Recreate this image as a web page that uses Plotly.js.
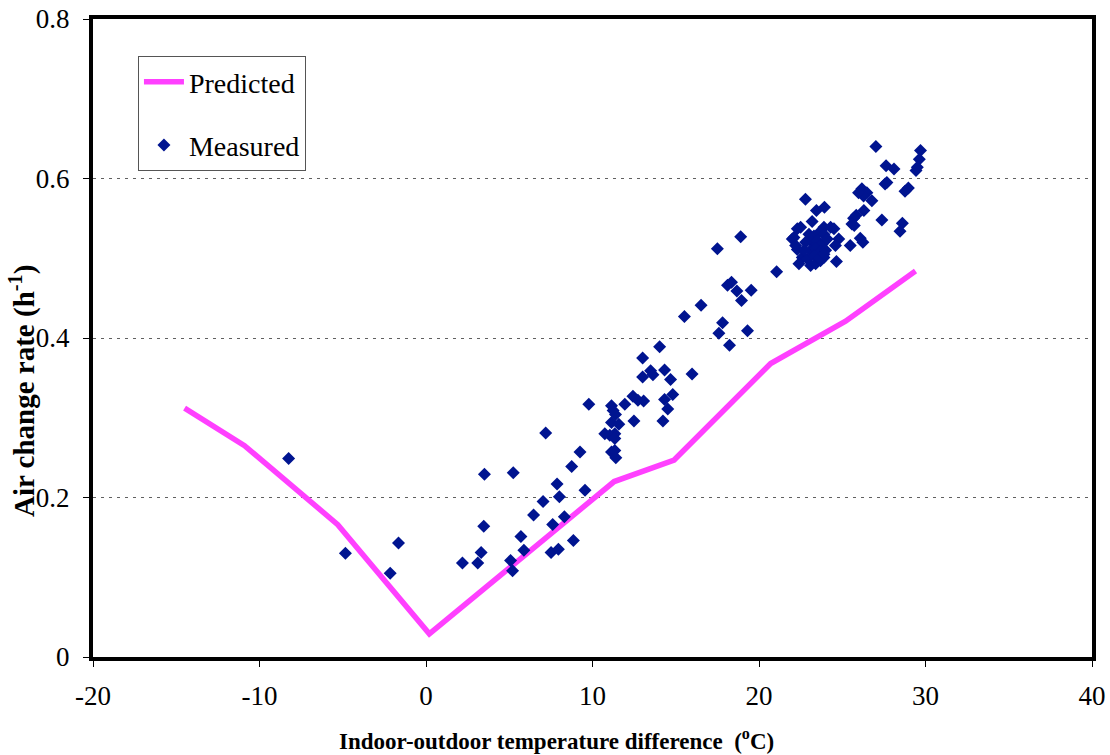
<!DOCTYPE html>
<html>
<head>
<meta charset="utf-8">
<script src="https://cdn.plot.ly/plotly-3.0.1.min.js"></script>
<style>html,body{margin:0;padding:0;background:#fff;}#chart{width:1110px;height:755px;}</style>
</head>
<body>
<div id="chart"></div>
<script>
// Predicted curve
var predX = [-14.5, -10.9, -5.3, 0.2, 5.2, 11.3, 14.9, 20.7, 25.2, 29.4];
var predY = [0.312, 0.265, 0.166, 0.029, 0.115, 0.220, 0.247, 0.368, 0.421, 0.484];

// Measured points
var measX = [-8.25, -4.84, -1.65, -2.15, 3.51, 5.24, 3.47, 3.31, 2.19, 3.11, 5.08, 5.20, 5.70,
  9.78, 11.94, 12.49, 10.74, 11.04, 11.34, 11.34, 11.14, 11.34, 11.40, 7.19, 9.25, 8.75, 7.87,
  9.55, 8.01, 7.03, 6.46, 8.31, 7.61, 8.85, 5.88, 7.51, 7.95,
  21.06, 18.11, 18.35, 18.67, 19.53, 18.95, 16.52, 15.52, 17.81, 17.59, 19.31, 18.23, 14.03,
  13.01, 14.33, 15.98, 13.49, 13.63, 13.01, 14.69, 14.82, 14.33, 14.52, 14.23, 12.43, 12.73,
  13.07, 11.14, 11.24, 11.38, 11.14, 11.58, 17.5, 18.9,
  27.02, 29.70, 29.63, 29.51, 29.43, 27.63, 28.11, 27.57, 27.68, 28.97, 28.77, 26.18, 26.48,
  26.28, 26.78, 25.98, 22.79, 26.30, 23.45, 23.93, 25.84, 25.68, 27.38, 25.58, 25.72, 28.61,
  28.47, 26.08, 26.24, 25.48, 24.65, 24.79, 24.59, 24.30, 24.50, 23.90, 23.19, 22.30, 22.50,
  22.00, 22.10, 22.30, 22.20, 22.60, 22.90, 23.10, 23.40, 23.69, 23.90, 22.40,
  23.0, 23.3, 23.6, 23.9, 23.2, 23.5, 23.8, 24.1, 23.1, 23.4, 23.7, 24.0, 23.3, 23.6, 23.9, 22.8, 22.7];
var measY = [0.249, 0.130, 0.143, 0.105, 0.229, 0.231, 0.164, 0.131, 0.118, 0.118, 0.121, 0.108, 0.151,
  0.317, 0.317, 0.296, 0.280, 0.278, 0.280, 0.274, 0.257, 0.259, 0.250, 0.281, 0.257, 0.239, 0.217,
  0.209, 0.201, 0.195, 0.178, 0.176, 0.166, 0.146, 0.134, 0.131, 0.135,
  0.483, 0.466, 0.470, 0.459, 0.460, 0.447, 0.441, 0.427, 0.419, 0.406, 0.409, 0.391, 0.389,
  0.375, 0.360, 0.355, 0.359, 0.354, 0.351, 0.348, 0.329, 0.323, 0.311, 0.296, 0.327, 0.322,
  0.321, 0.315, 0.309, 0.304, 0.294, 0.292, 0.512, 0.527,
  0.640, 0.635, 0.624, 0.614, 0.610, 0.616, 0.612, 0.593, 0.595, 0.588, 0.584, 0.587, 0.582,
  0.578, 0.572, 0.582, 0.574, 0.560, 0.560, 0.564, 0.554, 0.550, 0.548, 0.543, 0.541, 0.544,
  0.534, 0.525, 0.520, 0.516, 0.496, 0.524, 0.516, 0.539, 0.537, 0.539, 0.546, 0.537, 0.539,
  0.524, 0.526, 0.511, 0.516, 0.501, 0.499, 0.491, 0.493, 0.497, 0.501, 0.493,
  0.530, 0.528, 0.532, 0.530, 0.520, 0.522, 0.518, 0.524, 0.510, 0.512, 0.508, 0.510, 0.503, 0.500, 0.505, 0.520, 0.510];

var xTicks = [-20, -10, 0, 10, 20, 30, 40];
var xTickText = ['-20', '-10', '0', '10', '20', '30', '40'];
var yTicks = [0, 0.2, 0.4, 0.6, 0.8];
var yTickText = ['0', '0.2', '0.4', '0.6', '0.8'];

var xTitle = '<b>Indoor-outdoor temperature difference  (<sup>o</sup>C)</b>';
var yTitle = '<b>Air change rate (h<sup>-1</sup>)</b>';

var FONT = '"Liberation Serif", "Times New Roman", serif';

var traces = [
  {
    x: predX, y: predY, type: 'scatter', mode: 'lines', name: 'Predicted',
    legendgroup: 'a',
    line: {color: '#FF40FF', width: 5.5}
  },
  {
    x: measX, y: measY, type: 'scatter', mode: 'markers', name: 'Measured',
    legendgroup: 'b',
    marker: {symbol: 'diamond', size: 10, color: '#001490', line: {width: 0}}
  }
];

var layout = {
  width: 1110, height: 755,
  margin: {l: 93, r: 18, t: 19, b: 98},
  paper_bgcolor: '#fff', plot_bgcolor: '#fff',
  font: {family: FONT, size: 21, color: '#000'},
  showlegend: true,
  legend: {
    x: 0.045, y: 0.942, xanchor: 'left', yanchor: 'top',
    bgcolor: '#fff', bordercolor: '#555', borderwidth: 1,
    font: {family: FONT, size: 28, color: '#000'},
    itemwidth: 40,
    traceorder: 'grouped', tracegroupgap: 24
  },
  xaxis: {
    range: [-20, 40], tickvals: xTicks, ticktext: xTickText, ticks: 'outside', ticklen: 6, tickcolor: '#000',
    showline: true, linewidth: 4, linecolor: '#000', mirror: true,
    showgrid: false, zeroline: false,
    ticklabelstandoff: 6,
    tickfont: {family: FONT, size: 27}
  },
  yaxis: {
    range: [0, 0.8], tickvals: yTicks, ticktext: yTickText, ticks: 'outside', ticklen: 6, tickcolor: '#000',
    showline: true, linewidth: 4, linecolor: '#000', mirror: true,
    showgrid: true, gridcolor: '#606060', griddash: '3px,5px', gridwidth: 1, zeroline: false,
    ticklabelstandoff: 8,
    tickfont: {family: FONT, size: 27}
  },
  annotations: [
    {
      text: yTitle, textangle: -90, showarrow: false,
      xref: 'paper', yref: 'paper', x: -0.070, y: 0.417,
      xanchor: 'center', yanchor: 'middle',
      font: {family: FONT, size: 29, color: '#000'}
    },
    {
      text: xTitle, showarrow: false,
      xref: 'paper', yref: 'paper', x: 0.4635, y: -0.130,
      xanchor: 'center', yanchor: 'middle',
      font: {family: FONT, size: 23, color: '#000'}
    }
  ]
};

Plotly.newPlot('chart', traces, layout, {displayModeBar: false, staticPlot: true});
</script>
</body>
</html>
